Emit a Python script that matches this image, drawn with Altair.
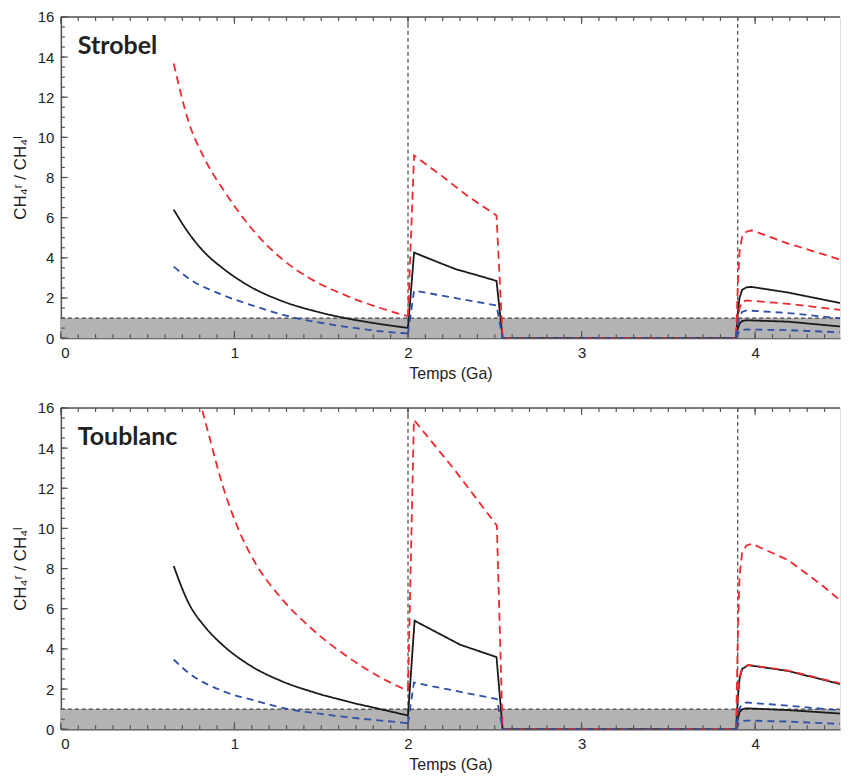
import altair as alt
import pandas as pd
import numpy as np

XMAX = 4.489

# ---------------- Strobel (top panel) ----------------
# first decay segment (smooth curves)
s_noir_1_x = [0.65, 0.735, 0.83, 0.93, 1.08, 1.27, 1.46, 1.65, 1.84, 2.00]
s_noir_1_y = [6.40, 5.25, 4.25, 3.50, 2.62, 1.86, 1.35, 0.98, 0.70, 0.51]
s_rouge_1_x = [0.65, 0.735, 0.83, 0.946, 1.10, 1.27, 1.44, 1.61, 1.84, 2.00]
s_rouge_1_y = [13.68, 10.8, 8.9, 7.26, 5.45, 3.97, 2.95, 2.24, 1.50, 1.09]
s_bleu_1_x = [0.65, 0.735, 0.93, 1.12, 1.31, 1.50, 1.69, 1.88, 2.00]
s_bleu_1_y = [3.56, 2.98, 2.16, 1.58, 1.09, 0.76, 0.51, 0.31, 0.23]
# later segments
s_noir_a_x = [2.00, 2.035, 2.19, 2.28, 2.38, 2.51, 2.545, 3.89, 3.90, 3.91, 3.925, 3.95, 3.98, 4.19, 4.489]
s_noir_a_y = [0.51, 4.26, 3.72, 3.42, 3.18, 2.85, 0.0, 0.0, 1.2, 2.0, 2.4, 2.53, 2.55, 2.27, 1.75]
s_noir_b_x = [3.89, 3.90, 3.91, 3.925, 3.95, 4.19, 4.489]
s_noir_b_y = [0.0, 0.45, 0.72, 0.85, 0.89, 0.82, 0.58]
s_rouge_a_x = [2.00, 2.035, 2.19, 2.34, 2.51, 2.545, 3.89, 3.90, 3.91, 3.925, 3.95, 3.98, 4.19, 4.38, 4.489]
s_rouge_a_y = [1.09, 9.10, 8.11, 7.10, 6.11, 0.0, 0.0, 2.6, 4.3, 5.05, 5.3, 5.37, 4.71, 4.21, 3.91]
s_rouge_b_x = [3.89, 3.90, 3.91, 3.925, 3.95, 4.19, 4.489]
s_rouge_b_y = [0.0, 0.9, 1.5, 1.8, 1.88, 1.71, 1.41]
s_bleu_a_x = [2.00, 2.035, 2.27, 2.51, 2.545, 3.89, 3.90, 3.91, 3.925, 3.95, 4.19, 4.489]
s_bleu_a_y = [0.23, 2.37, 2.0, 1.63, 0.0, 0.0, 0.65, 1.1, 1.3, 1.38, 1.25, 0.99]
s_bleu_b_x = [3.89, 3.90, 3.91, 3.925, 3.95, 4.19, 4.489]
s_bleu_b_y = [0.0, 0.2, 0.34, 0.41, 0.43, 0.40, 0.29]

# ---------------- Toublanc (bottom panel) ----------------
t_noir_1_x = [0.65, 0.735, 0.83, 0.93, 1.08, 1.27, 1.46, 1.65, 1.84, 2.00]
t_noir_1_y = [8.13, 6.30, 5.10, 4.21, 3.23, 2.40, 1.83, 1.38, 1.00, 0.68]
t_rouge_1_x = [0.65, 0.75, 0.85, 0.927, 1.022, 1.117, 1.27, 1.44, 1.633, 1.843, 2.00]
t_rouge_1_y = [21.5, 18.0, 14.75, 12.28, 9.98, 8.33, 6.52, 5.04, 3.72, 2.57, 1.91]
t_bleu_1_x = [0.65, 0.735, 0.93, 1.12, 1.31, 1.50, 1.69, 1.88, 2.00]
t_bleu_1_y = [3.47, 2.81, 1.91, 1.42, 1.00, 0.76, 0.56, 0.40, 0.30]
t_noir_a_x = [2.00, 2.038, 2.19, 2.30, 2.51, 2.545, 3.89, 3.90, 3.91, 3.925, 3.96, 4.19, 4.489]
t_noir_a_y = [0.68, 5.40, 4.71, 4.21, 3.59, 0.0, 0.0, 1.5, 2.5, 3.0, 3.19, 2.90, 2.25]
t_noir_b_x = [3.89, 3.90, 3.91, 3.925, 3.95, 4.19, 4.489]
t_noir_b_y = [0.0, 0.5, 0.85, 0.99, 1.04, 0.95, 0.78]
t_rouge_a_x = [2.00, 2.034, 2.27, 2.512, 2.545, 3.89, 3.90, 3.91, 3.925, 3.95, 3.983, 4.193, 4.384, 4.489]
t_rouge_a_y = [1.91, 15.41, 12.9, 10.14, 0.0, 0.0, 4.5, 7.6, 8.8, 9.15, 9.23, 8.41, 7.18, 6.42]
t_rouge_b_x = [3.89, 3.90, 3.91, 3.925, 3.96, 4.19, 4.489]
t_rouge_b_y = [0.0, 1.6, 2.6, 3.0, 3.2, 2.92, 2.28]
t_bleu_a_x = [2.00, 2.034, 2.512, 2.545, 3.89, 3.90, 3.91, 3.925, 3.95, 4.19, 4.489]
t_bleu_a_y = [0.30, 2.32, 1.50, 0.0, 0.0, 0.65, 1.05, 1.25, 1.33, 1.17, 0.94]
t_bleu_b_x = [3.89, 3.90, 3.91, 3.925, 3.95, 4.19, 4.489]
t_bleu_b_y = [0.0, 0.2, 0.34, 0.41, 0.43, 0.38, 0.26]

series_names = ["noir_1", "rouge_1", "bleu_1", "noir_a", "noir_b", "rouge_a", "rouge_b", "bleu_a", "bleu_b"]
series_colors = ["#1a1a1a", "#ee2a2f", "#2f4fa8", "#1a1a1a", "#1a1a1a", "#ee2a2f", "#ee2a2f", "#2f4fa8", "#2f4fa8"]
series_dash = [[1, 0], [8, 5], [7, 5], [1, 0], [1, 0], [8, 5], [8, 5], [7, 5], [7, 5]]
smooth_names = ["noir_1", "rouge_1", "bleu_1"]

ref_x = [2.0, 3.9]
ref_y = 1.0
x_major = [0, 1, 2, 3, 4]
y_major = [0, 2, 4, 6, 8, 10, 12, 14, 16]
x_minor = [round(v, 2) for v in np.arange(0, XMAX, 0.1)]
y_minor = [round(v, 2) for v in np.arange(0, 16.01, 0.5)]

W, H = 781, 322
FONT = "Liberation Sans"

XAXIS = alt.Axis(
    values=x_major, format="d", ticks=False, grid=False, domain=True,
    domainColor="#555", domainWidth=1.5, labelFont=FONT, labelFontSize=15,
    labelColor="#222", labelPadding=7, title="Temps (Ga)", titleFont=FONT,
    titleFontSize=16, titleFontWeight="normal", titleColor="#222", titlePadding=5)
YAXIS = alt.Axis(
    values=y_major, ticks=False, grid=False, domain=True, domainColor="#555",
    domainWidth=1.5, labelFont=FONT, labelFontSize=15, labelColor="#222",
    labelPadding=7, title="CH₄ʳ / CH₄ˡ", titleFont=FONT, titleFontSize=17,
    titleFontWeight="normal", titleColor="#222", titlePadding=8)


def make_df(pairs):
    rows = []
    for name, (xs, ys) in zip(series_names, pairs):
        for i, (a, b) in enumerate(zip(xs, ys)):
            rows.append({"serie": name, "x": a, "y": b, "ordre": i})
    return pd.DataFrame(rows)


def panel(df, label):
    xs = alt.Scale(domain=[0, XMAX], nice=False, zero=False)
    ys = alt.Scale(domain=[0, 16], nice=False)

    def X(f):
        return alt.X(f, scale=xs, axis=XAXIS)

    def Y(f):
        return alt.Y(f, scale=ys, axis=YAXIS)

    band = alt.Chart(pd.DataFrame({"x": [0], "x1": [XMAX], "y": [0], "y1": [ref_y]})).mark_rect(
        color="#b3b3b3"
    ).encode(x=X("x:Q"), x2="x1:Q", y=Y("y:Q"), y2="y1:Q")

    hline = alt.Chart(pd.DataFrame({"y": [ref_y]})).mark_rule(
        color="#222", strokeWidth=1, strokeDash=[4, 3]
    ).encode(y=Y("y:Q"))

    vlines = alt.Chart(pd.DataFrame({"x": ref_x})).mark_rule(
        color="#222", strokeWidth=1, strokeDash=[4, 3]
    ).encode(x=X("x:Q"))

    enc = dict(
        x=X("x:Q"),
        y=Y("y:Q"),
        color=alt.Color("serie:N", scale=alt.Scale(domain=series_names, range=series_colors), legend=None),
        strokeDash=alt.StrokeDash("serie:N", scale=alt.Scale(domain=series_names, range=series_dash), legend=None),
        detail="serie:N",
        order="ordre:Q",
    )
    smooth = df[df["serie"].isin(smooth_names)]
    rest = df[~df["serie"].isin(smooth_names)]
    lines1 = alt.Chart(smooth).mark_line(clip=True, strokeWidth=1.8, interpolate="monotone").encode(**enc)
    lines2 = alt.Chart(rest).mark_line(clip=True, strokeWidth=1.8).encode(**enc)

    xmaj = pd.DataFrame({"x": x_major})
    xmin = pd.DataFrame({"x": x_minor})
    ymaj = pd.DataFrame({"y": y_major})
    ymin = pd.DataFrame({"y": y_minor})
    tk = dict(color="#555", strokeWidth=1.2)
    ticks = [
        alt.Chart(xmaj).mark_rule(**tk).encode(x=X("x:Q"), y=alt.value(H), y2=alt.value(H - 7)),
        alt.Chart(xmin).mark_rule(**tk).encode(x=X("x:Q"), y=alt.value(H), y2=alt.value(H - 4)),
        alt.Chart(xmaj).mark_rule(**tk).encode(x=X("x:Q"), y=alt.value(0), y2=alt.value(7)),
        alt.Chart(xmin).mark_rule(**tk).encode(x=X("x:Q"), y=alt.value(0), y2=alt.value(4)),
        alt.Chart(ymaj).mark_rule(**tk).encode(y=Y("y:Q"), x=alt.value(0), x2=alt.value(7)),
        alt.Chart(ymin).mark_rule(**tk).encode(y=Y("y:Q"), x=alt.value(0), x2=alt.value(4)),
    ]
    top = alt.Chart(pd.DataFrame({"a": [0]})).mark_rule(color="#555", strokeWidth=1.5).encode(
        y=alt.value(0), x=alt.value(0), x2=alt.value(W)
    )

    title = alt.Chart(pd.DataFrame({"t": [label]})).mark_text(
        align="left", baseline="middle", font="Lato", fontSize=25, fontWeight="bold", color="#222"
    ).encode(x=alt.value(17), y=alt.value(29), text="t:N")

    return alt.layer(band, hline, vlines, lines1, lines2, *ticks, top, title).properties(width=W, height=H)


def frame(prefix):
    g = globals()
    return make_df([
        (g[prefix + "noir_1_x"], g[prefix + "noir_1_y"]),
        (g[prefix + "rouge_1_x"], g[prefix + "rouge_1_y"]),
        (g[prefix + "bleu_1_x"], g[prefix + "bleu_1_y"]),
        (g[prefix + "noir_a_x"], g[prefix + "noir_a_y"]),
        (g[prefix + "noir_b_x"], g[prefix + "noir_b_y"]),
        (g[prefix + "rouge_a_x"], g[prefix + "rouge_a_y"]),
        (g[prefix + "rouge_b_x"], g[prefix + "rouge_b_y"]),
        (g[prefix + "bleu_a_x"], g[prefix + "bleu_a_y"]),
        (g[prefix + "bleu_b_x"], g[prefix + "bleu_b_y"]),
    ])


chart = alt.vconcat(panel(frame("s_"), "Strobel"), panel(frame("t_"), "Toublanc"), spacing=18).properties(
    padding={"left": 2, "top": 0, "right": 0, "bottom": 0}
).configure_view(stroke=None).configure(background="white")

chart.save("out.html", embed_options={"renderer": "svg", "actions": False})
